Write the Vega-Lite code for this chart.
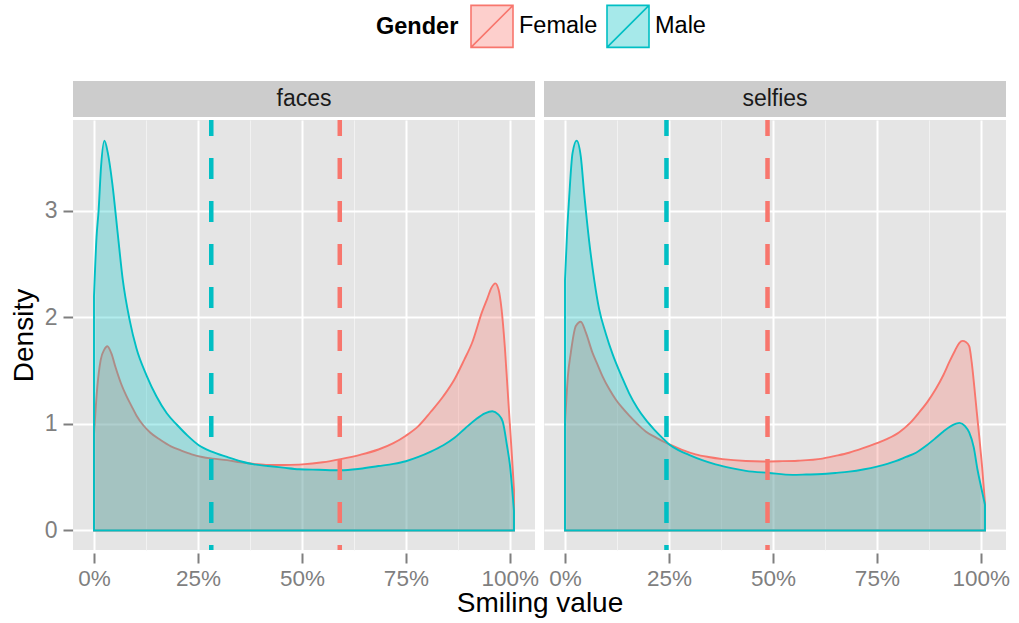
{
  "$schema": "https://vega.github.io/schema/vega-lite/v6.json",
  "padding": {"left": 10, "top": 4, "right": 9, "bottom": 5},
  "config": {
    "font": "Liberation Sans",
    "view": {"stroke": null}
  },
  "datasets": {
    "panels": [
      {"panel": "faces"},
      {"panel": "selfies"}
    ],
    "dens": [
      {"panel": "faces", "gender": "Female", "x": 0, "density": 0.9},
      {"panel": "faces", "gender": "Female", "x": 0.008, "density": 1.35},
      {"panel": "faces", "gender": "Female", "x": 0.016, "density": 1.6},
      {"panel": "faces", "gender": "Female", "x": 0.025, "density": 1.7},
      {"panel": "faces", "gender": "Female", "x": 0.032, "density": 1.73},
      {"panel": "faces", "gender": "Female", "x": 0.042, "density": 1.66},
      {"panel": "faces", "gender": "Female", "x": 0.052, "density": 1.53},
      {"panel": "faces", "gender": "Female", "x": 0.065, "density": 1.38},
      {"panel": "faces", "gender": "Female", "x": 0.077, "density": 1.27},
      {"panel": "faces", "gender": "Female", "x": 0.09, "density": 1.17},
      {"panel": "faces", "gender": "Female", "x": 0.102, "density": 1.08},
      {"panel": "faces", "gender": "Female", "x": 0.118, "density": 0.99},
      {"panel": "faces", "gender": "Female", "x": 0.135, "density": 0.92},
      {"panel": "faces", "gender": "Female", "x": 0.16, "density": 0.85},
      {"panel": "faces", "gender": "Female", "x": 0.185, "density": 0.79},
      {"panel": "faces", "gender": "Female", "x": 0.21, "density": 0.75},
      {"panel": "faces", "gender": "Female", "x": 0.235, "density": 0.715},
      {"panel": "faces", "gender": "Female", "x": 0.26, "density": 0.69},
      {"panel": "faces", "gender": "Female", "x": 0.285, "density": 0.675},
      {"panel": "faces", "gender": "Female", "x": 0.32, "density": 0.66},
      {"panel": "faces", "gender": "Female", "x": 0.352, "density": 0.64},
      {"panel": "faces", "gender": "Female", "x": 0.385, "density": 0.625},
      {"panel": "faces", "gender": "Female", "x": 0.418, "density": 0.614},
      {"panel": "faces", "gender": "Female", "x": 0.46, "density": 0.615},
      {"panel": "faces", "gender": "Female", "x": 0.501, "density": 0.62},
      {"panel": "faces", "gender": "Female", "x": 0.55, "density": 0.64},
      {"panel": "faces", "gender": "Female", "x": 0.593, "density": 0.67},
      {"panel": "faces", "gender": "Female", "x": 0.64, "density": 0.71},
      {"panel": "faces", "gender": "Female", "x": 0.684, "density": 0.76},
      {"panel": "faces", "gender": "Female", "x": 0.72, "density": 0.82},
      {"panel": "faces", "gender": "Female", "x": 0.75, "density": 0.89},
      {"panel": "faces", "gender": "Female", "x": 0.78, "density": 0.98},
      {"panel": "faces", "gender": "Female", "x": 0.809, "density": 1.11},
      {"panel": "faces", "gender": "Female", "x": 0.84, "density": 1.26},
      {"panel": "faces", "gender": "Female", "x": 0.867, "density": 1.42},
      {"panel": "faces", "gender": "Female", "x": 0.89, "density": 1.6},
      {"panel": "faces", "gender": "Female", "x": 0.909, "density": 1.76},
      {"panel": "faces", "gender": "Female", "x": 0.933, "density": 2.05},
      {"panel": "faces", "gender": "Female", "x": 0.946, "density": 2.18},
      {"panel": "faces", "gender": "Female", "x": 0.956, "density": 2.28},
      {"panel": "faces", "gender": "Female", "x": 0.965, "density": 2.32},
      {"panel": "faces", "gender": "Female", "x": 0.973, "density": 2.26},
      {"panel": "faces", "gender": "Female", "x": 0.98, "density": 2.08},
      {"panel": "faces", "gender": "Female", "x": 0.988, "density": 1.72},
      {"panel": "faces", "gender": "Female", "x": 0.995, "density": 1.3},
      {"panel": "faces", "gender": "Female", "x": 1.0, "density": 1.0},
      {"panel": "faces", "gender": "Female", "x": 1.005, "density": 0.7},
      {"panel": "faces", "gender": "Female", "x": 1.01, "density": 0.38},
      {"panel": "faces", "gender": "Male", "x": 0, "density": 2.2},
      {"panel": "faces", "gender": "Male", "x": 0.006, "density": 2.75},
      {"panel": "faces", "gender": "Male", "x": 0.011, "density": 3.0},
      {"panel": "faces", "gender": "Male", "x": 0.017, "density": 3.42},
      {"panel": "faces", "gender": "Male", "x": 0.025, "density": 3.66},
      {"panel": "faces", "gender": "Male", "x": 0.033, "density": 3.55},
      {"panel": "faces", "gender": "Male", "x": 0.044, "density": 3.26},
      {"panel": "faces", "gender": "Male", "x": 0.057, "density": 2.79},
      {"panel": "faces", "gender": "Male", "x": 0.069, "density": 2.36},
      {"panel": "faces", "gender": "Male", "x": 0.086, "density": 1.97},
      {"panel": "faces", "gender": "Male", "x": 0.102, "density": 1.71},
      {"panel": "faces", "gender": "Male", "x": 0.127, "density": 1.45},
      {"panel": "faces", "gender": "Male", "x": 0.15, "density": 1.26},
      {"panel": "faces", "gender": "Male", "x": 0.175, "density": 1.1},
      {"panel": "faces", "gender": "Male", "x": 0.2, "density": 0.99},
      {"panel": "faces", "gender": "Male", "x": 0.225, "density": 0.89},
      {"panel": "faces", "gender": "Male", "x": 0.252, "density": 0.8},
      {"panel": "faces", "gender": "Male", "x": 0.283, "density": 0.74},
      {"panel": "faces", "gender": "Male", "x": 0.32, "density": 0.69},
      {"panel": "faces", "gender": "Male", "x": 0.352, "density": 0.65},
      {"panel": "faces", "gender": "Male", "x": 0.385, "density": 0.62},
      {"panel": "faces", "gender": "Male", "x": 0.418, "density": 0.605},
      {"panel": "faces", "gender": "Male", "x": 0.455, "density": 0.59},
      {"panel": "faces", "gender": "Male", "x": 0.493, "density": 0.575},
      {"panel": "faces", "gender": "Male", "x": 0.54, "density": 0.57},
      {"panel": "faces", "gender": "Male", "x": 0.593, "density": 0.565},
      {"panel": "faces", "gender": "Male", "x": 0.64, "density": 0.58},
      {"panel": "faces", "gender": "Male", "x": 0.684, "density": 0.605},
      {"panel": "faces", "gender": "Male", "x": 0.72, "density": 0.625},
      {"panel": "faces", "gender": "Male", "x": 0.75, "density": 0.65},
      {"panel": "faces", "gender": "Male", "x": 0.78, "density": 0.69},
      {"panel": "faces", "gender": "Male", "x": 0.81, "density": 0.74},
      {"panel": "faces", "gender": "Male", "x": 0.84, "density": 0.8},
      {"panel": "faces", "gender": "Male", "x": 0.867, "density": 0.87},
      {"panel": "faces", "gender": "Male", "x": 0.893, "density": 0.96},
      {"panel": "faces", "gender": "Male", "x": 0.917, "density": 1.04},
      {"panel": "faces", "gender": "Male", "x": 0.94, "density": 1.1},
      {"panel": "faces", "gender": "Male", "x": 0.958, "density": 1.12},
      {"panel": "faces", "gender": "Male", "x": 0.972, "density": 1.09},
      {"panel": "faces", "gender": "Male", "x": 0.983, "density": 1.02},
      {"panel": "faces", "gender": "Male", "x": 0.993, "density": 0.8},
      {"panel": "faces", "gender": "Male", "x": 1.0, "density": 0.62},
      {"panel": "faces", "gender": "Male", "x": 1.01, "density": 0.18},
      {"panel": "selfies", "gender": "Female", "x": 0, "density": 1.0},
      {"panel": "selfies", "gender": "Female", "x": 0.007, "density": 1.45},
      {"panel": "selfies", "gender": "Female", "x": 0.014, "density": 1.67},
      {"panel": "selfies", "gender": "Female", "x": 0.026, "density": 1.92},
      {"panel": "selfies", "gender": "Female", "x": 0.038, "density": 1.96},
      {"panel": "selfies", "gender": "Female", "x": 0.05, "density": 1.86},
      {"panel": "selfies", "gender": "Female", "x": 0.066, "density": 1.67},
      {"panel": "selfies", "gender": "Female", "x": 0.078, "density": 1.56},
      {"panel": "selfies", "gender": "Female", "x": 0.09, "density": 1.45},
      {"panel": "selfies", "gender": "Female", "x": 0.106, "density": 1.33},
      {"panel": "selfies", "gender": "Female", "x": 0.122, "density": 1.23},
      {"panel": "selfies", "gender": "Female", "x": 0.138, "density": 1.15},
      {"panel": "selfies", "gender": "Female", "x": 0.154, "density": 1.08},
      {"panel": "selfies", "gender": "Female", "x": 0.174, "density": 1.0},
      {"panel": "selfies", "gender": "Female", "x": 0.194, "density": 0.93},
      {"panel": "selfies", "gender": "Female", "x": 0.22, "density": 0.87},
      {"panel": "selfies", "gender": "Female", "x": 0.25, "density": 0.81},
      {"panel": "selfies", "gender": "Female", "x": 0.28, "density": 0.76},
      {"panel": "selfies", "gender": "Female", "x": 0.314, "density": 0.715},
      {"panel": "selfies", "gender": "Female", "x": 0.345, "density": 0.69},
      {"panel": "selfies", "gender": "Female", "x": 0.379, "density": 0.67},
      {"panel": "selfies", "gender": "Female", "x": 0.435, "density": 0.652},
      {"panel": "selfies", "gender": "Female", "x": 0.475, "density": 0.648},
      {"panel": "selfies", "gender": "Female", "x": 0.515, "density": 0.65},
      {"panel": "selfies", "gender": "Female", "x": 0.56, "density": 0.655},
      {"panel": "selfies", "gender": "Female", "x": 0.619, "density": 0.675},
      {"panel": "selfies", "gender": "Female", "x": 0.65, "density": 0.7},
      {"panel": "selfies", "gender": "Female", "x": 0.683, "density": 0.73},
      {"panel": "selfies", "gender": "Female", "x": 0.715, "density": 0.77},
      {"panel": "selfies", "gender": "Female", "x": 0.75, "density": 0.82},
      {"panel": "selfies", "gender": "Female", "x": 0.775, "density": 0.86},
      {"panel": "selfies", "gender": "Female", "x": 0.803, "density": 0.92},
      {"panel": "selfies", "gender": "Female", "x": 0.83, "density": 1.01},
      {"panel": "selfies", "gender": "Female", "x": 0.852, "density": 1.11},
      {"panel": "selfies", "gender": "Female", "x": 0.872, "density": 1.21},
      {"panel": "selfies", "gender": "Female", "x": 0.892, "density": 1.33},
      {"panel": "selfies", "gender": "Female", "x": 0.91, "density": 1.46},
      {"panel": "selfies", "gender": "Female", "x": 0.924, "density": 1.58},
      {"panel": "selfies", "gender": "Female", "x": 0.938, "density": 1.69},
      {"panel": "selfies", "gender": "Female", "x": 0.948, "density": 1.76},
      {"panel": "selfies", "gender": "Female", "x": 0.956, "density": 1.78},
      {"panel": "selfies", "gender": "Female", "x": 0.964, "density": 1.77},
      {"panel": "selfies", "gender": "Female", "x": 0.972, "density": 1.73},
      {"panel": "selfies", "gender": "Female", "x": 0.978, "density": 1.58},
      {"panel": "selfies", "gender": "Female", "x": 0.984, "density": 1.36},
      {"panel": "selfies", "gender": "Female", "x": 0.99, "density": 1.12},
      {"panel": "selfies", "gender": "Female", "x": 0.996, "density": 0.89},
      {"panel": "selfies", "gender": "Female", "x": 1.003, "density": 0.6},
      {"panel": "selfies", "gender": "Female", "x": 1.01, "density": 0.26},
      {"panel": "selfies", "gender": "Male", "x": 0, "density": 2.35},
      {"panel": "selfies", "gender": "Male", "x": 0.005, "density": 2.8},
      {"panel": "selfies", "gender": "Male", "x": 0.0096, "density": 3.1},
      {"panel": "selfies", "gender": "Male", "x": 0.018, "density": 3.54},
      {"panel": "selfies", "gender": "Male", "x": 0.028, "density": 3.66},
      {"panel": "selfies", "gender": "Male", "x": 0.038, "density": 3.51},
      {"panel": "selfies", "gender": "Male", "x": 0.046, "density": 3.17},
      {"panel": "selfies", "gender": "Male", "x": 0.058, "density": 2.72},
      {"panel": "selfies", "gender": "Male", "x": 0.07, "density": 2.36},
      {"panel": "selfies", "gender": "Male", "x": 0.082, "density": 2.08},
      {"panel": "selfies", "gender": "Male", "x": 0.098, "density": 1.85},
      {"panel": "selfies", "gender": "Male", "x": 0.114, "density": 1.66},
      {"panel": "selfies", "gender": "Male", "x": 0.138, "density": 1.43},
      {"panel": "selfies", "gender": "Male", "x": 0.154, "density": 1.29},
      {"panel": "selfies", "gender": "Male", "x": 0.174, "density": 1.15},
      {"panel": "selfies", "gender": "Male", "x": 0.194, "density": 1.04},
      {"panel": "selfies", "gender": "Male", "x": 0.214, "density": 0.95},
      {"panel": "selfies", "gender": "Male", "x": 0.234, "density": 0.87},
      {"panel": "selfies", "gender": "Male", "x": 0.25, "density": 0.81},
      {"panel": "selfies", "gender": "Male", "x": 0.275, "density": 0.75},
      {"panel": "selfies", "gender": "Male", "x": 0.298, "density": 0.71},
      {"panel": "selfies", "gender": "Male", "x": 0.33, "density": 0.66},
      {"panel": "selfies", "gender": "Male", "x": 0.362, "density": 0.62},
      {"panel": "selfies", "gender": "Male", "x": 0.4, "density": 0.585},
      {"panel": "selfies", "gender": "Male", "x": 0.435, "density": 0.56},
      {"panel": "selfies", "gender": "Male", "x": 0.49, "density": 0.54},
      {"panel": "selfies", "gender": "Male", "x": 0.547, "density": 0.522},
      {"panel": "selfies", "gender": "Male", "x": 0.58, "density": 0.525},
      {"panel": "selfies", "gender": "Male", "x": 0.619, "density": 0.53},
      {"panel": "selfies", "gender": "Male", "x": 0.65, "density": 0.54},
      {"panel": "selfies", "gender": "Male", "x": 0.683, "density": 0.552},
      {"panel": "selfies", "gender": "Male", "x": 0.72, "density": 0.575},
      {"panel": "selfies", "gender": "Male", "x": 0.75, "density": 0.6},
      {"panel": "selfies", "gender": "Male", "x": 0.775, "density": 0.625},
      {"panel": "selfies", "gender": "Male", "x": 0.795, "density": 0.65},
      {"panel": "selfies", "gender": "Male", "x": 0.82, "density": 0.69},
      {"panel": "selfies", "gender": "Male", "x": 0.844, "density": 0.73},
      {"panel": "selfies", "gender": "Male", "x": 0.87, "density": 0.8},
      {"panel": "selfies", "gender": "Male", "x": 0.892, "density": 0.87},
      {"panel": "selfies", "gender": "Male", "x": 0.91, "density": 0.93},
      {"panel": "selfies", "gender": "Male", "x": 0.928, "density": 0.98},
      {"panel": "selfies", "gender": "Male", "x": 0.949, "density": 1.01},
      {"panel": "selfies", "gender": "Male", "x": 0.962, "density": 0.98},
      {"panel": "selfies", "gender": "Male", "x": 0.972, "density": 0.92},
      {"panel": "selfies", "gender": "Male", "x": 0.983, "density": 0.78},
      {"panel": "selfies", "gender": "Male", "x": 0.992, "density": 0.57},
      {"panel": "selfies", "gender": "Male", "x": 1.0, "density": 0.42},
      {"panel": "selfies", "gender": "Male", "x": 1.01, "density": 0.24},
      {"panel": "faces", "gender": "Female", "mean": 0.591},
      {"panel": "faces", "gender": "Male", "mean": 0.282},
      {"panel": "selfies", "gender": "Female", "mean": 0.487},
      {"panel": "selfies", "gender": "Male", "mean": 0.244}
    ]
  },
  "spacing": 0,
  "vconcat": [
    {
      "data": {"name": "panels"},
      "facet": {
        "column": {"field": "panel", "type": "nominal", "sort": ["faces", "selfies"], "header": null}
      },
      "spacing": 9,
      "spec": {
        "width": 462,
        "height": 36,
        "view": {"fill": "#CCCCCC", "stroke": null},
        "mark": {"type": "text", "fontSize": 23, "color": "#1A1A1A", "baseline": "middle", "align": "center"},
        "encoding": {"text": {"field": "panel", "type": "nominal"}}
      }
    },
    {
      "data": {"name": "dens"},
      "facet": {
        "column": {
          "field": "panel", "type": "nominal", "sort": ["faces", "selfies"],
          "header": {"labels": false, "title": "Smiling value", "titleOrient": "bottom", "titleFontSize": 28, "titleFontWeight": "normal", "titleColor": "#000000", "titlePadding": -10}
        }
      },
      "spacing": 9,
      "spec": {
        "width": 462,
        "height": 430,
        "view": {"fill": "#E5E5E5", "stroke": null},
        "layer": [
          {
            "transform": [{"filter": "datum.density != null"}],
            "mark": {"type": "area", "fillOpacity": 0.3, "strokeWidth": 1.9, "interpolate": "monotone"},
            "encoding": {
              "x": {
                "field": "x", "type": "quantitative", "title": null,
                "scale": {"domain": [-0.0505, 1.0605], "nice": false, "zero": false},
                "axis": {
                  "values": [0, 0.125, 0.25, 0.375, 0.5, 0.625, 0.75, 0.875, 1],
                  "format": ".0%",
                  "labelExpr": "(datum.value * 4) % 1 == 0 ? datum.label : ''",
                  "domain": false,
                  "grid": true,
                  "gridColor": {"condition": {"test": "(datum.value * 4) % 1 != 0", "value": "#F2F2F2"}, "value": "#FFFFFF"},
                  "gridWidth": {"condition": {"test": "(datum.value * 4) % 1 != 0", "value": 1}, "value": 2},
                  "tickOpacity": {"condition": {"test": "(datum.value * 4) % 1 != 0", "value": 0}, "value": 1},
                  "tickColor": "#7F7F7F",
                  "tickWidth": 2,
                  "tickSize": 10,
                  "labelColor": "#7F7F7F",
                  "labelFontSize": 22.5,
                  "labelPadding": 4,
                  "labelFlush": false,
                  "labelOverlap": false
                }
              },
              "y": {
                "field": "density", "type": "quantitative", "title": "Density", "stack": null,
                "scale": {"domain": [-0.1835, 3.854], "nice": false, "zero": false},
                "axis": {
                  "values": [0, 0.5, 1, 1.5, 2, 2.5, 3, 3.5],
                  "format": "d",
                  "labelExpr": "datum.value % 1 == 0 ? datum.label : ''",
                  "domain": false,
                  "grid": true,
                  "gridColor": {"condition": {"test": "datum.value % 1 != 0", "value": "#F2F2F2"}, "value": "#FFFFFF"},
                  "gridWidth": {"condition": {"test": "datum.value % 1 != 0", "value": 1}, "value": 2},
                  "tickOpacity": {"condition": {"test": "datum.value % 1 != 0", "value": 0}, "value": 1},
                  "tickColor": "#7F7F7F",
                  "tickWidth": 2,
                  "tickSize": 10,
                  "labelColor": "#7F7F7F",
                  "labelFontSize": 23,
                  "labelPadding": 6,
                  "labelFlush": false,
                  "titleFontSize": 28,
                  "titleFontWeight": "normal",
                  "titleColor": "#000000",
                  "titlePadding": 6
                }
              },
              "y2": {"datum": 0},
              "fill": {
                "field": "gender", "type": "nominal", "title": "Gender",
                "scale": {"domain": ["Female", "Male"], "range": ["#F8766D", "#00BFC4"]},
                "legend": {
                  "orient": "none", "legendX": 303, "legendY": -77,
                  "direction": "horizontal", "titleOrient": "left",
                  "titleFontSize": 23.5, "titleFontWeight": "bold", "titleColor": "#000000", "titlePadding": 11,
                  "labelFontSize": 23.5, "labelColor": "#000000", "labelOffset": 5,
                  "symbolType": "M-1,-1H1V1H-1Z M-1,1L1,-1", "symbolSize": 1764, "symbolStrokeWidth": 1.6,
                  "columnPadding": 5,
                  "encode": {"symbols": {"update": {"fillOpacity": {"value": 0.35}}}}
                }
              },
              "stroke": {
                "field": "gender", "type": "nominal", "title": "Gender",
                "scale": {"domain": ["Female", "Male"], "range": ["#F8766D", "#00BFC4"]},
                "legend": {
                  "orient": "none", "legendX": 303, "legendY": -77,
                  "direction": "horizontal", "titleOrient": "left",
                  "titleFontSize": 23.5, "titleFontWeight": "bold", "titleColor": "#000000", "titlePadding": 11,
                  "labelFontSize": 23.5, "labelColor": "#000000", "labelOffset": 5,
                  "symbolType": "M-1,-1H1V1H-1Z M-1,1L1,-1", "symbolSize": 1764, "symbolStrokeWidth": 1.6,
                  "columnPadding": 5,
                  "encode": {"symbols": {"update": {"fillOpacity": {"value": 0.35}}}}
                }
              }
            }
          },
          {
            "transform": [{"filter": "datum.mean != null"}],
            "mark": {"type": "rule", "strokeWidth": 4.5, "strokeDash": [21, 22], "strokeDashOffset": 5},
            "encoding": {
              "x": {"field": "mean", "type": "quantitative"},
              "stroke": {"field": "gender", "type": "nominal", "title": "Gender"}
            }
          }
        ]
      }
    }
  ]
}
